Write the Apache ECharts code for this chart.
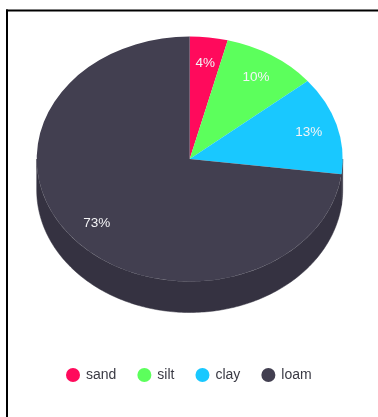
<!DOCTYPE html>
<html>
<head>
<meta charset="utf-8">
<style>html,body{margin:0;padding:0;background:#fff}#chart{width:378px;height:417px}</style>
<script src="https://cdn.jsdelivr.net/npm/echarts@6/dist/echarts.min.js"></script>
</head>
<body>
<div id="chart"></div>
<script>
// Soil composition, percent of the total
const soilTypes = ['sand', 'silt', 'clay', 'loam'];
const soilShares = [4, 10, 13, 73];
const faceColors = ['#ff0a5c', '#5cff5c', '#19c8ff', '#423f50'];
const wallColors = ['#c80848', '#48c848', '#353241', '#353241'];

// Disc geometry: an ellipse with a vertical wall below its front half
const cx = 189.7, cy = 159, rx = 153, ry = 122.5, depth = 31;
const total = soilShares.reduce((a, b) => a + b, 0);

// Slice i runs clockwise from 12 o'clock, after all earlier slices
function sliceAngles(i) {
  const before = soilShares.slice(0, i).reduce((a, b) => a + b, 0);
  const toAngle = v => -Math.PI / 2 + (v / total) * Math.PI * 2;
  return [toAngle(before), toAngle(before + soilShares[i])];
}

// Outline of the part of the wall a slice shows (only angles in 0..PI face the viewer)
function wallPoints(a0, a1) {
  const from = Math.max(a0, 0), to = Math.min(a1, Math.PI);
  if (to <= from) return null;
  const top = [], bottom = [];
  const steps = Math.max(2, Math.ceil((to - from) * 60));
  for (let k = 0; k <= steps; k++) {
    const t = from + (to - from) * k / steps;
    const x = cx + rx * Math.cos(t), y = cy + ry * Math.sin(t);
    top.push([x, y]);
    bottom.unshift([x, y + depth]);
  }
  return top.concat(bottom);
}

const makeSliceRenderer = (i, layer) => function (params, api) {
  const share = api.value(0);
  const [a0, a1] = sliceAngles(i);
  if (layer === 'wall') {
    const pts = wallPoints(a0, a1);
    return pts ? {
      type: 'polygon', shape: { points: pts },
      style: { fill: wallColors[i], stroke: wallColors[i], lineWidth: 0.5 }
    } : null;
  }
  const mid = (a0 + a1) / 2;
  return {
    type: 'group',
    children: [
      {
        type: 'sector', x: cx, y: cy, scaleY: ry / rx,
        shape: { cx: 0, cy: 0, r0: 0, r: rx, startAngle: a0, endAngle: a1, clockwise: true },
        style: { fill: faceColors[i] }
      },
      {
        type: 'text',
        x: cx + rx * 0.81 * Math.cos(mid),
        y: cy + ry * 0.79 * Math.sin(mid),
        style: {
          text: share + '%', fill: '#f4f4f6',
          font: '13.5px "Liberation Sans", Arial, sans-serif',
          align: 'center', verticalAlign: 'middle'
        }
      }
    ]
  };
};

const chart = echarts.init(document.getElementById('chart'), null, { renderer: 'canvas' });
chart.setOption({
  animation: false,
  backgroundColor: '#ffffff',
  legend: {
    data: soilTypes,
    left: 66, top: 368,
    icon: 'circle',
    itemWidth: 14, itemHeight: 14, itemGap: 21, padding: 0,
    textStyle: { color: '#3a3a44', fontSize: 14, fontFamily: '"Liberation Sans", Arial, sans-serif', padding: [0, 0, 0, 1] },
    selectedMode: false
  },
  // Heavy rules along the top and left edges of the panel
  graphic: [
    { type: 'rect', silent: true, z: 100, shape: { x: 6, y: 9.5, width: 372, height: 2 }, style: { fill: '#000000' } },
    { type: 'rect', silent: true, z: 100, shape: { x: 6, y: 9.5, width: 2, height: 407.5 }, style: { fill: '#000000' } }
  ],
  // The walls come first so the top faces always sit above them
  series: soilTypes.flatMap((name, i) => [
    {
      type: 'custom', name: name + ' wall', coordinateSystem: 'none', z: 1,
      itemStyle: { color: wallColors[i] },
      renderItem: makeSliceRenderer(i, 'wall'), data: [[soilShares[i]]], silent: true
    },
    {
      type: 'custom', name, coordinateSystem: 'none', z: 2,
      itemStyle: { color: faceColors[i] },
      renderItem: makeSliceRenderer(i, 'face'), data: [[soilShares[i]]], silent: true
    }
  ])
});
</script>
</body>
</html>
